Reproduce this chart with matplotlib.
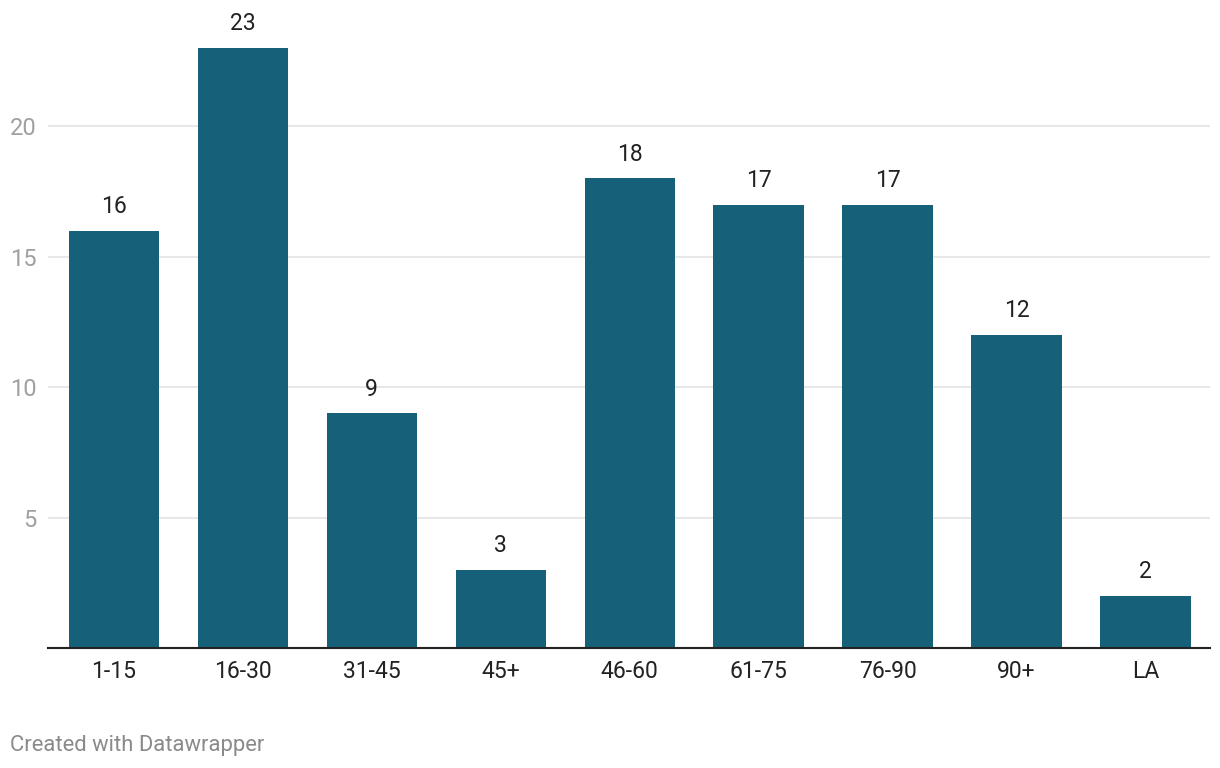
import matplotlib
matplotlib.use("Agg")
import matplotlib.pyplot as plt

categories = ["1-15", "16-30", "31-45", "45+", "46-60", "61-75", "76-90", "90+", "LA"]
values = [16, 23, 9, 3, 18, 17, 17, 12, 2]
y_ticks = [5, 10, 15, 20]

plt.rcParams['font.family'] = ['Roboto', 'DejaVu Sans']

fig = plt.figure(figsize=(12.2, 7.68), dpi=100)
ax = fig.add_axes([48 / 1220, 120 / 768, 1162 / 1220, 600 / 768])

x = list(range(len(categories)))
bars = ax.bar(x, values, width=0.7, color='#17607a', zorder=2)

for xi, v in zip(x, values):
    ax.annotate(str(v), (xi, v), xytext=(0, 9), textcoords='offset points',
                ha='center', va='bottom', fontsize=16.5, color='#222222')

ax.set_xlim(-0.51, 8.5)
ax.set_ylim(0, 23)
ax.set_xticks(x)
ax.set_xticklabels(categories, fontsize=16.5, color='#222222')
ax.set_yticks(y_ticks)
ax.set_yticklabels([str(t) for t in y_ticks], fontsize=17, color='#a0a0a0')
ax.tick_params(axis='x', length=0, pad=9)
ax.tick_params(axis='y', length=0, pad=8)

ax.grid(axis='y', color='#e3e3e3', linewidth=1.2, zorder=0)
for side in ['top', 'right', 'left']:
    ax.spines[side].set_visible(False)
ax.spines['bottom'].set_color('#222222')
ax.spines['bottom'].set_linewidth(1.5)
ax.spines['bottom'].set_zorder(3)

fig.text(10 / 1220, 1 - 745 / 768, "Created with Datawrapper", fontsize=15.8,
         color='#8a8a8a', ha='left', va='center')

fig.savefig("out.png", dpi=100, facecolor='white')
